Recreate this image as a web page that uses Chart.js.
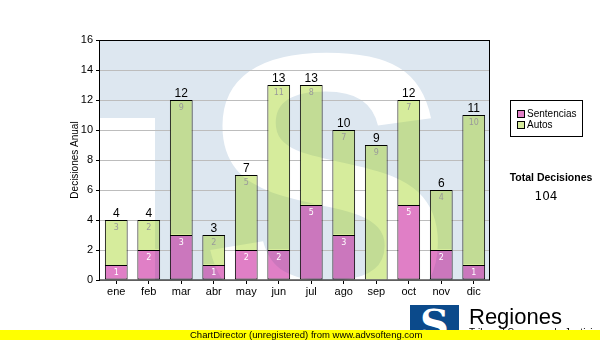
<!DOCTYPE html>
<html>
<head>
<meta charset="utf-8">
<script src="https://cdn.jsdelivr.net/npm/chart.js@4.4.1/dist/chart.umd.min.js"></script>
<style>
  body { margin: 0; background: #fff; }
  #wrap { position: relative; width: 600px; height: 340px; overflow: hidden; font-family: "Liberation Sans", Arial, sans-serif; }
  canvas { position: absolute; left: 0; top: 0; }
  .logo { position: absolute; left: 410px; top: 305px; width: 49px; height: 35px; background: #0b4a8b; color: #fff;
          font: bold 40px "DejaVu Serif", serif; line-height: 38px; text-align: center; overflow: hidden; }
  .brand { position: absolute; left: 469px; top: 304px; font-size: 22px; color: #000; }
  .sub { position: absolute; left: 469px; top: 327px; font-size: 10px; color: #000; }
  .bar { position: absolute; left: 0; top: 330px; width: 600px; height: 10px; background: #ffff00; }
  .bar span { position: absolute; left: 190px; top: -1px; font-size: 9.5px; color: #000; white-space: nowrap; }
</style>
</head>
<body>
<div id="wrap">
  <canvas id="chart" width="600" height="340"></canvas>
  <div class="logo">S</div>
  <div class="brand">Regiones</div>
  <div class="sub">Tribunal Supremo de Justicia</div>
  <div class="bar"><span>ChartDirector (unregistered) from www.advsofteng.com</span></div>
</div>
<script>
const months = ['ene', 'feb', 'mar', 'abr', 'may', 'jun', 'jul', 'ago', 'sep', 'oct', 'nov', 'dic'];
const sentencias = [1, 2, 3, 1, 2, 2, 5, 3, 0, 5, 2, 1];
const autos = [3, 2, 9, 2, 5, 11, 8, 7, 9, 7, 4, 10];
const seriesNames = ['Sentencias', 'Autos'];
const yMax = 16;
const yStep = 2;

const pink = '#e07fc6';
const green = '#d6ec9c';
const totals = months.map((m, i) => sentencias[i] + autos[i]);
const grandTotal = totals.reduce((a, b) => a + b, 0);

// faded logo behind the plot
let markCanvas = null;
function getMark(chart) {
    if (markCanvas) return markCanvas;
    const a = chart.chartArea;
    markCanvas = document.createElement('canvas');
    markCanvas.width = chart.width;
    markCanvas.height = chart.height;
    const m = markCanvas.getContext('2d');
    m.fillStyle = '#fff';
    m.fillRect(0, 0, chart.width, chart.height);
    m.save();
    m.beginPath();
    m.rect(a.left, a.top, a.width, a.height);
    m.clip();
    m.fillStyle = '#dde7f0';
    m.fillRect(a.left, a.top, a.width, a.height);
    m.fillStyle = '#fff';
    m.fillRect(a.left, 118, 55, a.height);
    m.font = 'bold 380px "Liberation Sans"';
    m.textAlign = 'center';
    m.textBaseline = 'alphabetic';
    m.fillText('S', 326, 318);
    m.restore();
    return markCanvas;
}

const decor = {
    id: 'decor',
    beforeDraw(chart) {
        chart.ctx.drawImage(getMark(chart), 0, 0);
    },
    afterDatasetsDraw(chart) {
        const { ctx, chartArea: a } = chart;
        // tint the bars with the watermark
        ctx.save();
        ctx.beginPath();
        chart.data.datasets.forEach((ds, di) => {
            chart.getDatasetMeta(di).data.forEach(bar => {
                const p = bar.getProps(['x', 'y', 'base', 'width'], true);
                const top = Math.min(p.y, p.base), h = Math.abs(p.base - p.y);
                if (h > 0) ctx.rect(p.x - p.width / 2 + 1, top + 1, p.width - 2, h - 2);
            });
        });
        ctx.clip();
        ctx.globalCompositeOperation = 'multiply';
        ctx.globalAlpha = 0.7;
        ctx.drawImage(getMark(chart), 0, 0);
        ctx.restore();

        ctx.save();
        ctx.textAlign = 'center';
        ctx.textBaseline = 'middle';
        ctx.font = '8px "DejaVu Sans"';
        chart.data.datasets.forEach((ds, di) => {
            chart.getDatasetMeta(di).data.forEach((bar, i) => {
                if (!ds.data[i]) return;
                ctx.fillStyle = di === 0 ? '#ffffff' : '#9a9a9a';
                ctx.fillText(ds.data[i], bar.x, bar.y + 8);
            });
        });
        ctx.font = '12px "Liberation Sans"';
        ctx.fillStyle = '#000';
        ctx.textBaseline = 'alphabetic';
        chart.getDatasetMeta(1).data.forEach((bar, i) => {
            ctx.fillText(totals[i], bar.x, bar.y - 3);
        });
        // plot frame
        ctx.strokeStyle = '#000';
        ctx.lineWidth = 1;
        ctx.strokeRect(Math.round(a.left) - 0.5, Math.round(a.top) + 0.5, Math.round(a.width), Math.round(a.height) - 0.5);
        ctx.restore();
    },
    afterDraw(chart) {
        const { ctx, chartArea: a } = chart;
        ctx.save();
        ctx.translate(75, (a.top + a.bottom) / 2);
        ctx.rotate(-Math.PI / 2);
        ctx.font = '10px "Liberation Sans"';
        ctx.fillStyle = '#000';
        ctx.textAlign = 'center';
        ctx.textBaseline = 'middle';
        ctx.fillText('Decisiones Anual', 0, 0);
        ctx.restore();

        // legend box
        ctx.save();
        ctx.fillStyle = '#fff';
        ctx.fillRect(510, 100, 72, 36);
        ctx.strokeStyle = '#000';
        ctx.strokeRect(510.5, 100.5, 72, 36);
        ctx.font = '10px "Liberation Sans"';
        ctx.textBaseline = 'middle';
        ctx.textAlign = 'left';
        [pink, green].forEach((c, k) => {
            const y = 114 + k * 11;
            ctx.fillStyle = c;
            ctx.fillRect(517, y - 3, 7, 7);
            ctx.strokeStyle = '#000';
            ctx.strokeRect(517.5, y - 3.5, 7, 7);
            ctx.fillStyle = '#000';
            ctx.fillText(seriesNames[k], 527, y);
        });
        ctx.textAlign = 'center';
        ctx.font = 'bold 10.5px "Liberation Sans"';
        ctx.fillText('Total Decisiones', 551, 178);
        ctx.font = '12px "DejaVu Sans"';
        ctx.fillText(String(grandTotal), 546, 197);
        ctx.restore();
    }
};

new Chart(document.getElementById('chart').getContext('2d'), {
    type: 'bar',
    data: {
        labels: months,
        datasets: [
            { label: seriesNames[0], data: sentencias, backgroundColor: pink, borderColor: '#000', borderWidth: 1, borderSkipped: false },
            { label: seriesNames[1], data: autos, backgroundColor: green, borderColor: '#000', borderWidth: 1, borderSkipped: 'bottom' }
        ]
    },
    options: {
        responsive: false,
        animation: false,
        devicePixelRatio: 1,
        layout: { padding: { left: 0, top: 40, right: 110, bottom: 40 } },
        datasets: { bar: { categoryPercentage: 1, barPercentage: 0.7 } },
        plugins: { legend: { display: false }, tooltip: { enabled: false } },
        scales: {
            x: {
                stacked: true,
                afterFit: s => { s.height = 20; },
                grid: { display: true, drawOnChartArea: false, offset: false, tickLength: 4, tickColor: '#000' },
                border: { display: false },
                ticks: { color: '#000', font: { family: 'Liberation Sans', size: 11 }, padding: 1 }
            },
            y: {
                stacked: true,
                min: 0,
                max: yMax,
                afterFit: s => { s.width = 100; },
                grid: { color: '#bdbdbd', tickLength: 4, tickColor: '#000' },
                border: { display: false },
                ticks: { stepSize: yStep, color: '#000', font: { family: 'Liberation Sans', size: 11 }, padding: 3 }
            }
        }
    },
    plugins: [decor]
});
</script>
</body>
</html>
